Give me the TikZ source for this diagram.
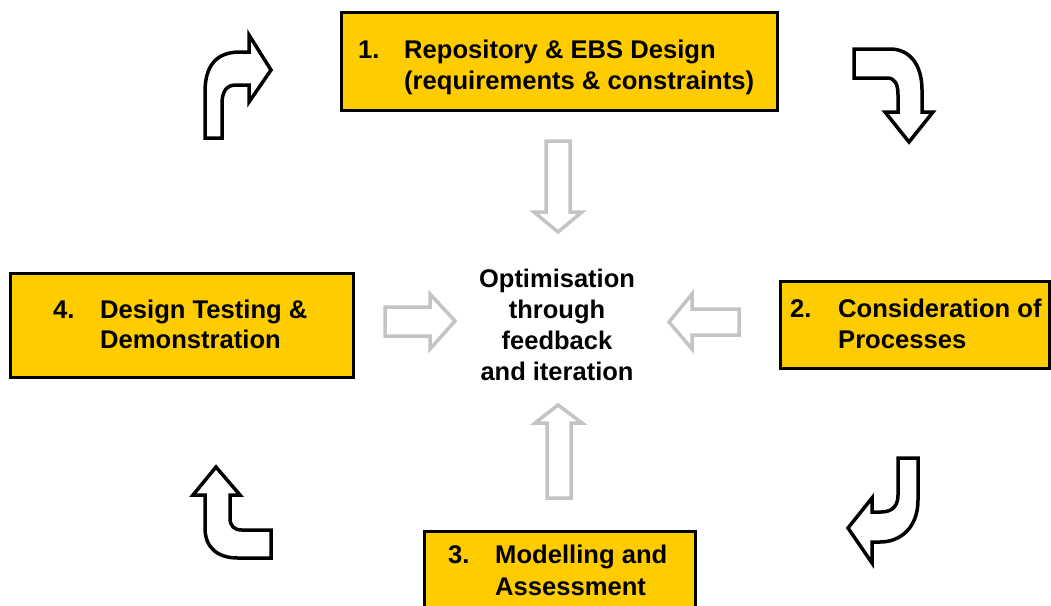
\documentclass[tikz,border=0pt]{standalone}
\usepackage{fontspec}
\setmainfont{Liberation Sans}
\definecolor{boxgold}{HTML}{FFCC00}
\definecolor{arrgray}{HTML}{C4C4C4}
\begin{document}
\begin{tikzpicture}[x=1pt,y=-1pt,
  stagebox/.style={draw=black,line width=3pt,fill=boxgold},
  txt/.style={inner sep=0pt,anchor=base west,font=\fontsize{25.6}{31}\selectfont\bfseries},
  ctxt/.style={inner sep=0pt,align=center,font=\fontsize{25.5}{31}\selectfont\bfseries},
  grayarrow/.style={draw=arrgray,line width=3.5pt,fill=white,line join=miter},
  bentarrow/.style={draw=black,line width=3.5pt,fill=white,line join=miter}]
\useasboundingbox (0,0) rectangle (1051,605);
\clip (0,0) rectangle (1051,605);
\fill[white] (0,0) rectangle (1051,605);

% boxes
\draw[stagebox] (341,12) rectangle (777,110);
\draw[stagebox] (780,281) rectangle (1049,368);
\draw[stagebox] (424,531) rectangle (695,620);
\draw[stagebox] (10,273) rectangle (353,377);

% texts
\node[txt] (n1) at (358,58) {1.};
\node[txt] (t1a) at (404,58) {Repository \& EBS Design};
\node[txt] (t1b) at (404,89.5) {(requirements \& constraints)};

\node[txt] (n2) at (790,317) {2.};
\node[txt] (t2a) at (838,317) {Consideration of};
\node[txt] (t2b) at (838,348) {Processes};

\node[txt] (n3) at (448,563) {3.};
\node[txt] (t3a) at (495,563) {Modelling and};
\node[txt] (t3b) at (495,595) {Assessment};

\node[txt] (n4) at (53,318) {4.};
\node[txt] (t4a) at (100,318) {Design Testing \&};
\node[txt] (t4b) at (100,348) {Demonstration};

\node[ctxt] (c) at (557,325) {Optimisation\\through\\feedback\\and iteration};

% gray hollow arrows
\draw[grayarrow] (546,141) -- (570,141) -- (570,212) -- (582,212) -- (558,232) -- (534,212) -- (546,212) -- cycle;
\draw[grayarrow] (547,498) -- (571,498) -- (571,423) -- (582,423) -- (558,405) -- (535,423) -- (547,423) -- cycle;
\draw[grayarrow] (385,307) -- (430,307) -- (430,294) -- (455,321) -- (430,349) -- (430,336) -- (385,336) -- cycle;
\draw[grayarrow] (739,309) -- (692,309) -- (692,294) -- (669,322) -- (692,349) -- (692,335) -- (739,335) -- cycle;

% black bent arrows
\draw[bentarrow] (205,138) -- (205,92) .. controls (205,66) and (216,52) .. (240,52) -- (249,52) -- (249,35) -- (271,70) -- (249,102) -- (249,85) -- (236,85) .. controls (226,85) and (222,92) .. (222,104) -- (222,138) -- cycle;

\draw[bentarrow] (854,49) -- (890,49) .. controls (910,49) and (922,65) .. (922,90) -- (922,112) -- (933,112) -- (909,142) -- (885,112) -- (898,112) -- (898,95) .. controls (898,84) and (895,78) .. (887,78) -- (854,78) -- cycle;

\draw[bentarrow] (898,458) -- (918,458) -- (918,500) .. controls (918,528) and (900,542) .. (880,542) -- (872,542) -- (872,563) -- (848,528) -- (872,498) -- (872,512) -- (881,512) .. controls (893,512) and (898,505) .. (898,495) -- cycle;

\draw[bentarrow] (271,530) -- (242,530) .. controls (234,530) and (230,526) .. (230,518) -- (230,495) -- (240,495) -- (216,467) -- (193,495) -- (205,495) -- (205,528) .. controls (205,548) and (218,558) .. (238,558) -- (271,558) -- cycle;
\end{tikzpicture}
\end{document}
